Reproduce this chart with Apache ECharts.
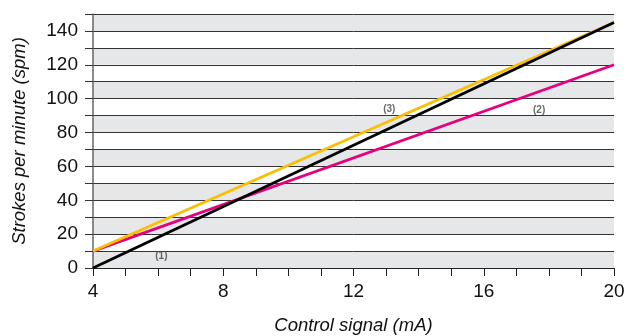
<!DOCTYPE html>
<html>
<head>
<meta charset="utf-8">
<script src="https://cdn.jsdelivr.net/npm/echarts@6/dist/echarts.min.js"></script>
<style>
  html, body { margin: 0; padding: 0; background: #fff; }
  #chart { width: 625px; height: 336px; }
</style>
</head>
<body>
<div id="chart"></div>
<script>
// control signal (mA) at the two ends of each line
const signal = [4, 20];
// strokes per minute
const line1 = [0, 145];   // black
const line2 = [10, 120];  // magenta
const line3 = [10, 145];  // yellow

const xLabels = [4, 8, 12, 16, 20];
const yLabels = [0, 20, 40, 60, 80, 100, 120, 140];

// curve tags: [x, y, text]
const tags = [
  [6.1, 7, '(1)'],
  [17.7, 93, '(2)'],
  [13.1, 94, '(3)'],
];

const font = 'Liberation Sans, Arial, sans-serif';
const pairs = (ys) => signal.map((x, i) => [x, ys[i]]);

const chart = echarts.init(document.getElementById('chart'));
chart.setOption({
  animation: false,
  grid: { left: 93, right: 11, top: 14, bottom: 68, containLabel: false, outerBoundsMode: 'none' },
  xAxis: {
    type: 'value',
    min: 4,
    max: 20,
    interval: 1,
    name: 'Control signal (mA)',
    nameLocation: 'middle',
    nameGap: 48,
    nameTextStyle: { fontFamily: font, fontSize: 18.5, fontStyle: 'italic', color: '#111' },
    axisLine: { lineStyle: { color: '#222', width: 1 } },
    axisTick: { length: 8, lineStyle: { color: '#222' } },
    axisLabel: {
      margin: 14,
      fontFamily: font,
      fontSize: 19,
      color: '#111',
      formatter: (v) => (xLabels.includes(v) ? String(v) : ''),
    },
    splitLine: { show: false },
  },
  yAxis: {
    type: 'value',
    min: 0,
    max: 150,
    interval: 10,
    name: 'Strokes per minute (spm)',
    nameLocation: 'middle',
    nameGap: 64,
    nameTextStyle: { fontFamily: font, fontSize: 18.5, fontStyle: 'italic', color: '#111' },
    axisLine: { show: true, lineStyle: { color: '#666', width: 1.5 } },
    axisTick: { show: true, length: 8, lineStyle: { color: '#333' } },
    axisLabel: {
      margin: 15,
      fontFamily: font,
      fontSize: 19,
      color: '#111',
      formatter: (v) => (yLabels.includes(v) ? String(v) : ''),
    },
    splitLine: { show: true, lineStyle: { color: '#333', width: 1 } },
    splitArea: { show: true, areaStyle: { color: ['#e6e7e8', '#ffffff'] } },
  },
  series: [
    {
      name: '(2)',
      type: 'line',
      data: pairs(line2),
      symbol: 'none',
      lineStyle: { color: '#e6007e', width: 2.8 },
    },
    {
      name: '(3)',
      type: 'line',
      data: pairs(line3),
      symbol: 'none',
      lineStyle: { color: '#fbbf00', width: 2.8 },
    },
    {
      name: '(1)',
      type: 'line',
      data: pairs(line1),
      symbol: 'none',
      lineStyle: { color: '#000', width: 2.8 },
    },
    {
      name: 'tags',
      type: 'scatter',
      symbolSize: 0,
      data: tags.map((t) => ({ value: [t[0], t[1]], name: t[2] })),
      label: {
        show: true,
        position: 'inside',
        formatter: (p) => p.name,
        fontFamily: 'Liberation Sans Narrow, Liberation Sans, sans-serif',
        fontSize: 10,
        fontWeight: 'bold',
        color: '#444',
      },
    },
  ],
});
</script>
</body>
</html>
